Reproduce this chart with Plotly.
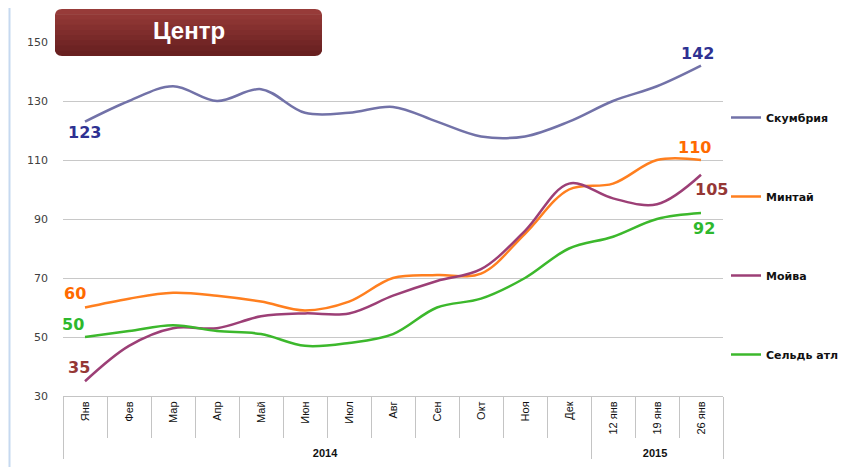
import plotly.graph_objects as go

years = ["<b>2014</b>"] * 12 + ["<b>2015</b>"] * 3
months = ["Янв", "Фев", "Мар", "Апр", "Май", "Июн", "Июл", "Авг", "Сен",
          "Окт", "Ноя", "Дек", "12 янв", "19 янв", "26 янв"]

skumbriya = [123, 130, 135, 130, 134, 126, 126, 128, 123, 118, 118, 123, 130, 135, 142]
mintai = [60, 63, 65, 64, 62, 59, 62, 70, 71, 71.5, 85, 100, 102, 110, 110]
moiva = [35, 47, 53, 53, 57, 58, 58, 64, 69, 73, 86, 102, 97, 95, 105]
seld = [50, 52, 54, 52, 51, 47, 48, 51, 60, 63, 70, 80, 84, 90, 92]

# name, values, line colour, label colour, (first label shift), (last label shift)
series = [
    ("Скумбрия", skumbriya, "#7272a8", "#2e3192", (-1, -11), (-4, 12)),
    ("Минтай", mintai, "#ff7f1f", "#ff6a00", (-10, 14), (-7, 12.5)),
    ("Мойва", moiva, "#9c3f76", "#953735", (-6, 14), (10, -15)),
    ("Сельдь атл", seld, "#3cb82c", "#2db82d", (-12.5, 12.5), (2.5, -15)),
]

# page body has an 8px margin: figure drawn at (8, 8) in the screenshot
OFF = 8
W, H = 862 - OFF, 467 - OFF
L, T = 63 - OFF, 42 - OFF
R = W - (723 - OFF)
B = H - (396 - OFF)
pw, ph = W - L - R, H - T - B

def px(sx):
    return (sx - OFF - L) / pw

def py(sy):
    return (H - B - (sy - OFF)) / ph

fig = go.Figure()
annotations = []
for i, (name, vals, col, tcol, s0, s1) in enumerate(series):
    fig.add_trace(go.Scatter(
        x=[years, months], y=vals, name=name, mode="lines",
        line=dict(color=col, width=2.5, shape="spline", smoothing=1.0),
        legendgroup=f"g{i}", cliponaxis=False,
    ))
    for idx, sh in ((0, s0), (len(vals) - 1, s1)):
        annotations.append(dict(
            x=idx, y=vals[idx], xref="x", yref="y", text=str(int(vals[idx])),
            showarrow=False, xanchor="center", yanchor="middle",
            xshift=sh[0], yshift=sh[1],
            font=dict(family="DejaVu Sans", size=16, color=tcol, weight="bold")))

# title box (rounded, vertical gradient approximated by bands)
bx0, bx1, by_top, by_bot = 55, 322, 9, 56
r = 7
nb = 9
top_rgb = (0x97, 0x3b, 0x39)
bot_rgb = (0x68, 0x20, 0x20)
shapes = []
band_h = (by_bot - by_top) / nb
X0, X1 = px(bx0), px(bx1)
rx, ry = r / pw, r / ph
for k in range(nb):
    t = k / (nb - 1)
    c = tuple(int(top_rgb[j] + (bot_rgb[j] - top_rgb[j]) * t) for j in range(3))
    col = "rgb(%d,%d,%d)" % c
    ya_px = by_top + k * band_h
    yb_px = by_top + (k + 1) * band_h + (0.6 if k < nb - 1 else 0)
    Ya, Yb = py(ya_px), py(yb_px)
    if k == 0:
        p = (f"M {X0+rx},{Ya} L {X1-rx},{Ya} Q {X1},{Ya} {X1},{Ya-ry} "
             f"L {X1},{Yb} L {X0},{Yb} L {X0},{Ya-ry} Q {X0},{Ya} {X0+rx},{Ya} Z")
    elif k == nb - 1:
        p = (f"M {X0},{Ya} L {X1},{Ya} L {X1},{Yb+ry} Q {X1},{Yb} {X1-rx},{Yb} "
             f"L {X0+rx},{Yb} Q {X0},{Yb} {X0},{Yb+ry} Z")
    else:
        p = f"M {X0},{Ya} L {X1},{Ya} L {X1},{Yb} L {X0},{Yb} Z"
    shapes.append(dict(type="path", xref="paper", yref="paper", path=p,
                       fillcolor=col, line=dict(width=0), layer="above"))

shapes.append(dict(type="line", xref="paper", yref="paper", x0=px(9.5), x1=px(9.5),
                   y0=py(8), y1=py(467), line=dict(color="#c6d9f0", width=2)))

annotations.append(dict(text="<b>Центр</b>", xref="paper", yref="paper",
                        x=px((bx0 + bx1) / 2), y=py(30), xanchor="center", yanchor="middle",
                        showarrow=False,
                        font=dict(family="Liberation Sans", size=24, color="white")))

fig.update_layout(
    width=W, height=H,
    margin=dict(l=L, r=R, t=T, b=B, autoexpand=False),
    paper_bgcolor="white", plot_bgcolor="white",
    shapes=shapes,
    annotations=annotations,
    showlegend=True,
    legend=dict(x=px(726), y=py(103), xanchor="left", yanchor="top",
                tracegroupgap=60, bgcolor="rgba(0,0,0,0)",
                font=dict(family="DejaVu Sans", size=11, color="#111111", weight="bold"),
                itemwidth=30),
    xaxis=dict(type="multicategory", range=[-0.5, 14.5], autorange=False,
               showgrid=False, showline=True, linecolor="#c4c4c4",
               ticks="outside", tickson="boundaries", ticklen=41, tickcolor="#c4c4c4",
               tickangle=-90, showdividers=True, dividercolor="#c4c4c4", dividerwidth=1,
               tickfont=dict(family="Liberation Sans Narrow, Liberation Sans", size=11, color="#111111"),
               automargin=False, fixedrange=True),
    yaxis=dict(range=[30, 150], tick0=30, dtick=20, showgrid=True, gridcolor="#c8c8c8", gridwidth=1,
               zeroline=False, showline=False, ticks="", ticklabelstandoff=14,
               automargin=False,
               tickfont=dict(family="DejaVu Sans", size=11, color="#404040")),
)

fig.write_html("out.html")
